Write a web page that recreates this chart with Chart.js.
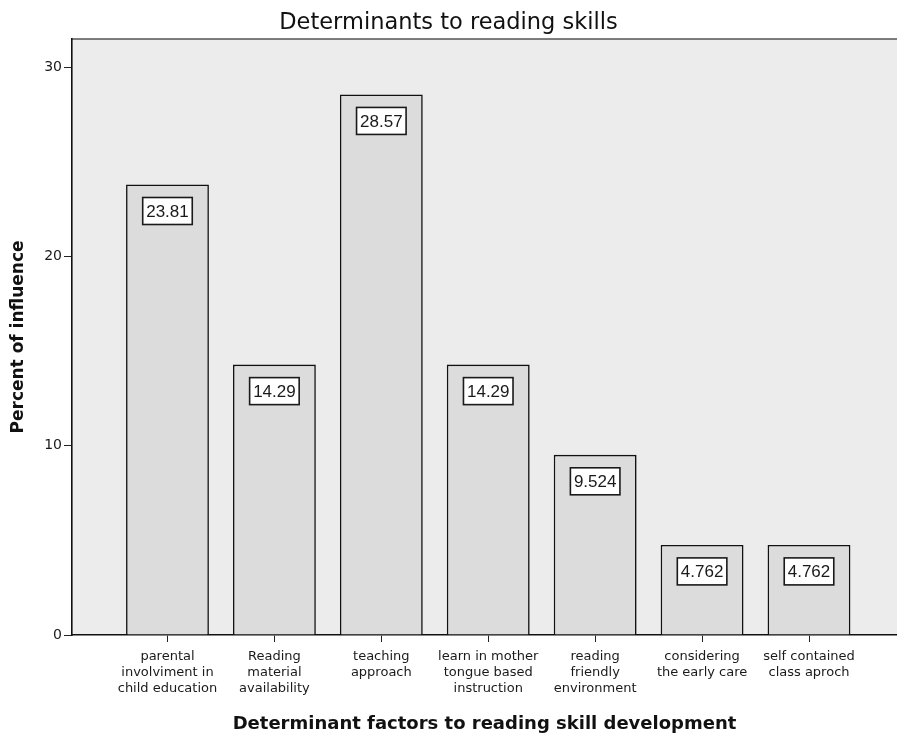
<!DOCTYPE html>
<html>
<head>
<meta charset="utf-8">
<script src="https://cdn.jsdelivr.net/npm/chart.js@4/dist/chart.umd.min.js"></script>
<style>
  html, body { margin: 0; padding: 0; background: #fff; }
  #wrap { width: 897px; height: 737px; }
</style>
</head>
<body>
<div id="wrap"><canvas id="myChart" width="897" height="737"></canvas></div>
<script>
// chart data
const categories = [
  ['parental', 'involviment in', 'child education'],
  ['Reading', 'material', 'availability'],
  ['teaching', 'approach'],
  ['learn in mother', 'tongue based', 'instruction'],
  ['reading', 'friendly', 'environment'],
  ['considering', 'the early care'],
  ['self contained', 'class aproch']
];
const percents = [23.81, 14.29, 28.57, 14.29, 9.524, 4.762, 4.762];
const valueLabels = ['23.81', '14.29', '28.57', '14.29', '9.524', '4.762', '4.762'];
const yTicks = [0, 10, 20, 30];

const SANS = '"Liberation Sans", Arial, sans-serif';
const WIDE = '"DejaVu Sans", Verdana, sans-serif';

// plot background and top border
const plotBg = {
  id: 'plotBg',
  beforeDraw(chart) {
    const { ctx, chartArea: a } = chart;
    ctx.save();
    ctx.fillStyle = '#ececec';
    ctx.fillRect(a.left, a.top, a.right - a.left, a.bottom - a.top);
    ctx.strokeStyle = '#555';
    ctx.lineWidth = 1.5;
    ctx.beginPath();
    ctx.moveTo(a.left, a.top);
    ctx.lineTo(a.right, a.top);
    ctx.stroke();
    ctx.restore();
  }
};

// boxed value labels inside the bars
const boxLabels = {
  id: 'boxLabels',
  afterDatasetsDraw(chart) {
    const { ctx } = chart;
    const meta = chart.getDatasetMeta(0);
    ctx.save();
    ctx.font = '17px ' + SANS;
    ctx.textAlign = 'center';
    ctx.textBaseline = 'middle';
    meta.data.forEach((bar, i) => {
      const txt = valueLabels[i];
      const w = ctx.measureText(txt).width + 7;
      const h = 27;
      const top = bar.y + 13;
      ctx.fillStyle = '#fff';
      ctx.fillRect(bar.x - w / 2, top, w, h);
      ctx.strokeStyle = '#1a1a1a';
      ctx.lineWidth = 1.6;
      ctx.strokeRect(bar.x - w / 2, top, w, h);
      ctx.fillStyle = '#1a1a1a';
      ctx.fillText(txt, bar.x, top + h / 2 + 1);
    });
    ctx.restore();
  }
};

const ctx = document.getElementById('myChart').getContext('2d');

const myChart = new Chart(ctx, {
  type: 'bar',
  data: {
    datasets: [{
      label: 'Percent of influence',
      data: percents.map((v, i) => ({ x: i + 1, y: v })),
      backgroundColor: '#dcdcdc',
      borderColor: '#111',
      borderWidth: 1.6,
      categoryPercentage: 1,
      barPercentage: 0.775
    }]
  },
  options: {
    responsive: false,
    animation: false,
    layout: { padding: 0 },
    plugins: {
      legend: { display: false },
      tooltip: { enabled: false },
      title: {
        display: true,
        text: 'Determinants to reading skills',
        color: '#111',
        font: { family: WIDE, size: 22.5, weight: 'normal' },
        padding: { top: 9.5, bottom: 2.5 }
      }
    },
    scales: {
      x: {
        type: 'linear',
        offset: false,
        min: 0.107,
        max: 7.823,
        afterBuildTicks: s => { s.ticks = categories.map((c, i) => ({ value: i + 1 })); },
        afterFit: s => { s.height = 102; },
        ticks: {
          autoSkip: false,
          maxRotation: 0,
          padding: 7,
          color: '#1a1a1a',
          font: { family: WIDE, size: 13, lineHeight: 1.23 },
          callback: v => categories[v - 1]
        },
        grid: { offset: false, drawOnChartArea: false, color: '#222', tickLength: 7 },
        border: { color: '#111', width: 1.6 },
        title: {
          display: true,
          text: 'Determinant factors to reading skill development',
          color: '#111',
          font: { family: WIDE, size: 18, weight: 'bold' },
          padding: { top: 0, bottom: 2 }
        }
      },
      y: {
        min: 0,
        max: 31.5,
        afterBuildTicks: s => { s.ticks = yTicks.map(v => ({ value: v })); },
        afterFit: s => { s.width = 72; },
        ticks: {
          padding: 2,
          color: '#1a1a1a',
          font: { family: WIDE, size: 14 }
        },
        grid: { drawOnChartArea: false, color: '#222', tickLength: 8 },
        border: { color: '#111', width: 1.6 },
        title: {
          display: true,
          text: 'Percent of influence',
          color: '#111',
          font: { family: WIDE, size: 17, weight: 'bold' },
          padding: { top: 8, bottom: 0 }
        }
      }
    }
  },
  plugins: [plotBg, boxLabels]
});
</script>
</body>
</html>
